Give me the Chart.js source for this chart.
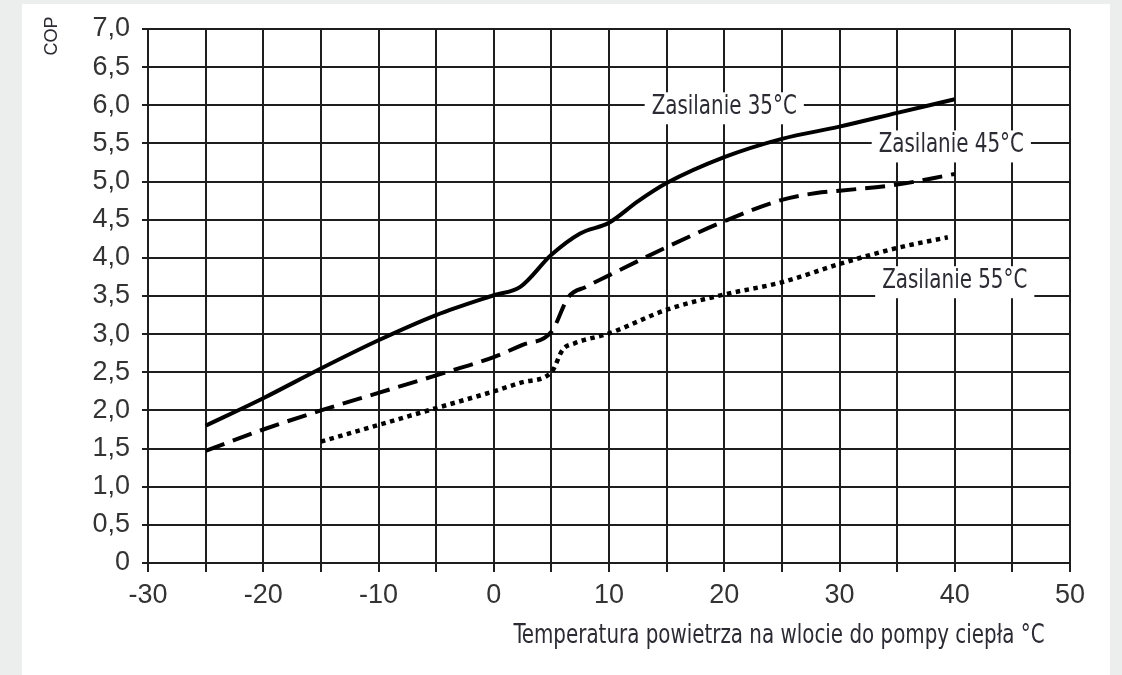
<!DOCTYPE html>
<html>
<head>
<meta charset="utf-8">
<script src="https://cdn.jsdelivr.net/npm/chart.js@4/dist/chart.umd.min.js"></script>
<style>
  html, body { margin: 0; padding: 0; }
  body { width: 1122px; height: 675px; background: #eceeee; position: relative; overflow: hidden; }
  #card { position: absolute; left: 22px; top: 4px; width: 1088px; height: 680px; background: #fff; }
  #cop-chart { position: absolute; left: 0; top: 0; }
</style>
</head>
<body>
<div id="card"></div>
<canvas id="cop-chart" width="1122" height="675"></canvas>
<script>
// temperatures (°C) and COP
const temps35 = [-25, -20, -15, -10, -5, 0, 2.3, 5, 7.5, 10, 12.5, 15, 20, 25, 30, 35, 40];
const cop35 = [1.8, 2.16, 2.55, 2.92, 3.25, 3.51, 3.62, 4.04, 4.32, 4.46, 4.74, 4.98, 5.32, 5.56, 5.72, 5.9, 6.08];

const temps45 = [-25, -20, -15, -10, -5, 0, 2.5, 5, 6.5, 8, 10, 15, 20, 25, 28, 30, 35, 40];
const cop45 = [1.47, 1.75, 2.0, 2.23, 2.46, 2.7, 2.86, 3.03, 3.49, 3.62, 3.77, 4.14, 4.48, 4.76, 4.85, 4.88, 4.96, 5.1];

const temps55 = [-15, -10, -5, 0, 2.5, 5, 6, 7, 10, 15, 20, 25, 30, 35, 39.4];
const cop55 = [1.59, 1.81, 2.03, 2.25, 2.37, 2.5, 2.8, 2.88, 3.01, 3.32, 3.52, 3.68, 3.92, 4.13, 4.27];

const seriesNames = ['Zasilanie 35°C', 'Zasilanie 45°C', 'Zasilanie 55°C'];
const xTitle = 'Temperatura powietrza na wlocie do pompy ciepła °C';
const yTitle = 'COP';

function toPoints(xs, ys) {
    return xs.map((x, i) => ({x: x, y: ys[i]}));
}

const labelFont = '26px "DejaVu Sans Condensed", "DejaVu Sans", sans-serif';
const squeeze = 0.85; // the original face is narrower than anything installed

// curve names sitting on the grid with a white box, plus the axis titles
const textPlugin = {
    id: 'texts',
    beforeDatasetsDraw(chart) {
        const ctx = chart.ctx;
        const xs = chart.scales.x;
        const ys = chart.scales.y;
        const spots = [
            [seriesNames[0], 20, 6.0],
            [seriesNames[1], 39.7, 5.5],
            [seriesNames[2], 40, 3.72]
        ];
        ctx.save();
        ctx.font = labelFont;
        ctx.textAlign = 'center';
        ctx.textBaseline = 'middle';
        spots.forEach(s => {
            const px = xs.getPixelForValue(s[1]);
            const py = ys.getPixelForValue(s[2]) + 2;
            const w = ctx.measureText(s[0]).width * squeeze;
            ctx.fillStyle = '#fff';
            ctx.fillRect(px - w / 2 - 7, py - 15, w + 14, 32);
            ctx.save();
            ctx.translate(px, py);
            ctx.scale(squeeze, 1);
            ctx.fillStyle = '#2b2b33';
            ctx.fillText(s[0], 0, 0);
            ctx.restore();
        });
        ctx.restore();
    },
    afterDraw(chart) {
        const ctx = chart.ctx;
        const xs = chart.scales.x;
        ctx.save();
        ctx.fillStyle = '#2b2b33';
        ctx.font = labelFont;
        ctx.textAlign = 'right';
        ctx.textBaseline = 'middle';
        ctx.save();
        ctx.translate(xs.getPixelForValue(47.8), 636);
        ctx.scale(squeeze, 1);
        ctx.fillText(xTitle, 0, 0);
        ctx.restore();
        ctx.translate(52, chart.chartArea.top + 7);
        ctx.rotate(-Math.PI / 2);
        ctx.font = '18px "Liberation Sans", sans-serif';
        ctx.textAlign = 'center';
        ctx.fillText(yTitle, 0, 0);
        ctx.restore();
    }
};

const gridColor = '#1e1e1e';

const copChart = new Chart(document.getElementById('cop-chart'), {
    type: 'line',
    data: {
        datasets: [{
            label: seriesNames[0],
            data: toPoints(temps35, cop35),
            borderColor: '#000',
            borderWidth: 4,
            pointRadius: 0,
            cubicInterpolationMode: 'monotone'
        }, {
            label: seriesNames[1],
            data: toPoints(temps45, cop45),
            borderColor: '#000',
            borderWidth: 4,
            borderDash: [20, 9],
            pointRadius: 0,
            cubicInterpolationMode: 'monotone'
        }, {
            label: seriesNames[2],
            data: toPoints(temps55, cop55),
            borderColor: '#000',
            borderWidth: 4.5,
            borderDash: [4.5, 4.5],
            borderCapStyle: 'butt',
            pointRadius: 0,
            cubicInterpolationMode: 'monotone'
        }]
    },
    options: {
        responsive: false,
        animation: false,
        layout: {
            padding: {left: 40, top: 29, right: 52, bottom: 0}
        },
        plugins: {
            legend: {display: false},
            tooltip: {enabled: false}
        },
        scales: {
            x: {
                type: 'linear',
                min: -30,
                max: 50,
                afterFit: (scale) => { scale.height = 112; },
                grid: {color: gridColor, lineWidth: 2, tickLength: 9, tickColor: gridColor},
                border: {color: gridColor, width: 2},
                ticks: {
                    stepSize: 5,
                    autoSkip: false,
                    maxRotation: 0,
                    padding: 7,
                    color: '#333',
                    font: {family: '"Liberation Sans", Arial, sans-serif', size: 27},
                    callback: (v) => (v % 10 === 0 ? String(v) : '')
                }
            },
            y: {
                min: 0,
                max: 7,
                afterFit: (scale) => { scale.width = 108; },
                grid: {color: gridColor, lineWidth: 2, tickLength: 6, tickColor: gridColor},
                border: {color: gridColor, width: 2},
                ticks: {
                    stepSize: 0.5,
                    autoSkip: false,
                    padding: 12,
                    color: '#333',
                    font: {family: '"Liberation Sans", Arial, sans-serif', size: 27},
                    callback: (v) => (v === 0 ? '0' : v.toFixed(1).replace('.', ','))
                }
            }
        }
    },
    plugins: [textPlugin]
});
</script>
</body>
</html>
